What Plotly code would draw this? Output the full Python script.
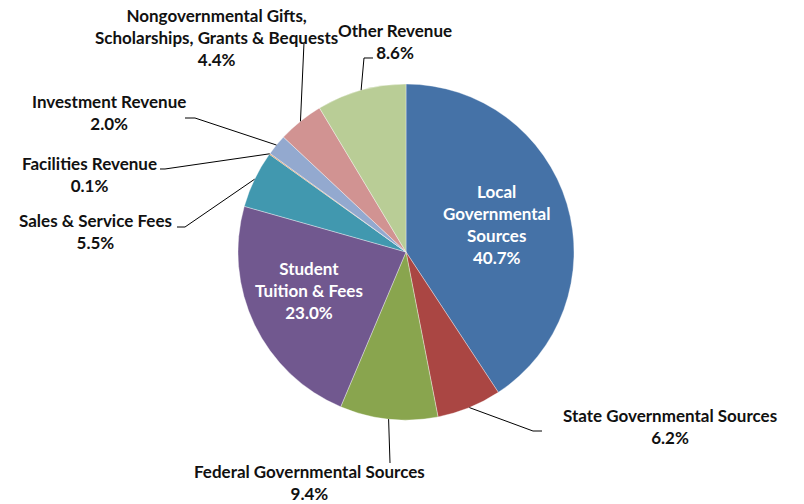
import math
import plotly.graph_objects as go

# ---- data ----
categories = [
    "Local Governmental Sources",
    "State Governmental Sources",
    "Federal Governmental Sources",
    "Student Tuition & Fees",
    "Sales & Service Fees",
    "Facilities Revenue",
    "Investment Revenue",
    "Nongovernmental Gifts, Scholarships, Grants & Bequests",
    "Other Revenue",
]
values = [40.7, 6.2, 9.4, 23.0, 5.5, 0.1, 2.0, 4.4, 8.6]
label_text = [
    "Local<br>Governmental<br>Sources",
    "State Governmental Sources",
    "Federal Governmental Sources",
    "Student<br>Tuition & Fees",
    "Sales & Service Fees",
    "Facilities Revenue",
    "Investment Revenue",
    "Nongovernmental Gifts,<br>Scholarships, Grants & Bequests",
    "Other Revenue",
]
colors = ["#4572A7", "#AA4643", "#89A54E", "#71588F", "#4198AF",
          "#DB843D", "#93A9CF", "#D19392", "#B9CD96"]

# ---- layout (pixels) ----
W, H = 804, 504
CX, CY, R = 406, 252, 168
FONT = "Lato"
FSIZE = 17

label_pos = {
    0: (496, 224, "inside"),
    1: (670, 426, "outside"),
    2: (309, 482, "outside"),
    3: (309, 290, "inside"),
    4: (95, 232, "outside"),
    5: (89, 174, "outside"),
    6: (109, 112, "outside"),
    7: (216, 38, "outside"),
    8: (395, 41, "outside"),
}
leader_pts = {
    1: [(533, 431), (542, 431)],
    2: [(390, 463)],
    4: [(185, 227), (177, 227)],
    5: [(165, 169), (160, 169)],
    6: [(195, 118), (185, 118)],
    7: [(304, 43)],
    8: [(364, 58), (373, 58)],
}


def px(x):
    return x / W


def py(y):
    return 1 - y / H


fig = go.Figure(go.Pie(
    labels=categories,
    values=values,
    sort=False,
    direction="clockwise",
    rotation=0,
    textinfo="none",
    hoverinfo="label+percent",
    marker=dict(colors=colors, line=dict(color="rgba(255,255,255,0.6)", width=0.6)),
    domain=dict(x=[px(CX - R), px(CX + R)], y=[py(CY + R), py(CY - R)]),
))

total = sum(values)
cum = 0.0
annotations = []
shapes = []
for i, v in enumerate(values):
    mid = (cum + v / 2) / total * 2 * math.pi
    cum += v
    x, y, kind = label_pos[i]
    color = "white" if kind == "inside" else "#111111"
    annotations.append(dict(
        x=px(x), y=py(y), xref="paper", yref="paper",
        text="<b>%s<br>%.1f%%</b>" % (label_text[i], v),
        showarrow=False, align="center", xanchor="center", yanchor="middle",
        font=dict(family=FONT, size=FSIZE, color=color),
    ))
    if i in leader_pts:
        ex = CX + R * math.sin(mid)
        ey = CY - R * math.cos(mid)
        pts = [(ex, ey)] + leader_pts[i]
        path = "M %f %f" % (px(pts[0][0]), py(pts[0][1]))
        for (a, b) in pts[1:]:
            path += " L %f %f" % (px(a), py(b))
        shapes.append(dict(type="path", path=path, xref="paper", yref="paper",
                           line=dict(color="black", width=1)))

fig.update_layout(
    width=W, height=H,
    margin=dict(l=0, r=0, t=0, b=0),
    paper_bgcolor="white", plot_bgcolor="white",
    showlegend=False,
    annotations=annotations,
    shapes=shapes,
)

fig.write_html("out.html")
